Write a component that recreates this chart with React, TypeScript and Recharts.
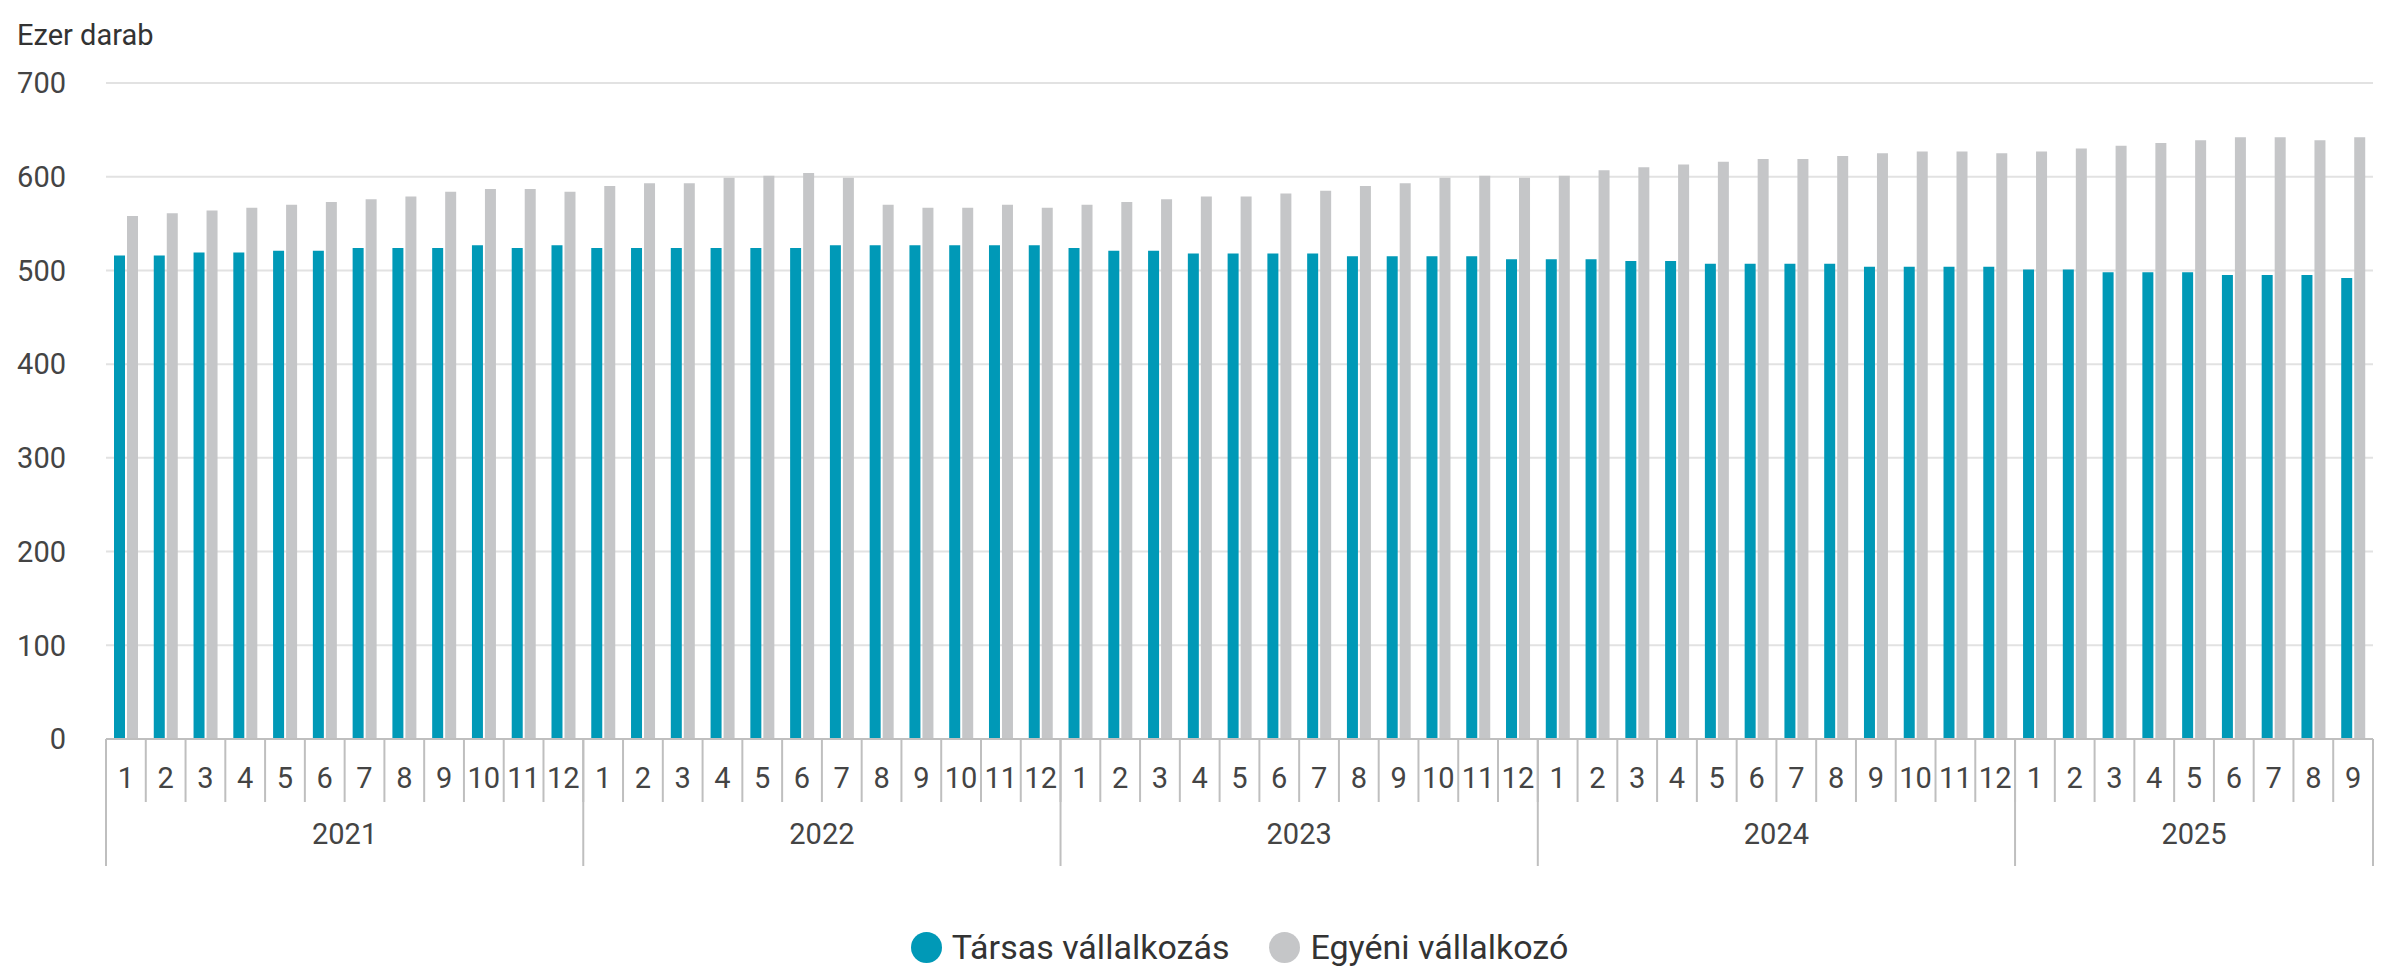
import React from "react";
import { BarChart, Bar, XAxis, YAxis, CartesianGrid, Legend } from "recharts";

// years shown and how many months each one has in the data
const YEARS = [2021, 2022, 2023, 2024, 2025];
const MONTH_COUNTS = [12, 12, 12, 12, 9];

// thousand units, one value per month from 2021-1 to 2025-9
const TARSAS = [
  516, 516, 519, 519, 521, 521, 524, 524, 524, 527, 524, 527,
  524, 524, 524, 524, 524, 524, 527, 527, 527, 527, 527, 527,
  524, 521, 521, 518, 518, 518, 518, 515, 515, 515, 515, 512,
  512, 512, 510, 510, 507, 507, 507, 507, 504, 504, 504, 504,
  501, 501, 498, 498, 498, 495, 495, 495, 492,
];
const EGYENI = [
  558, 561, 564, 567, 570, 573, 576, 579, 584, 587, 587, 584,
  590, 593, 593, 599, 601, 604, 599, 570, 567, 567, 570, 567,
  570, 573, 576, 579, 579, 582, 585, 590, 593, 599, 601, 599,
  601, 607, 610, 613, 616, 619, 619, 622, 625, 627, 627, 625,
  627, 630, 633, 636, 639, 642, 642, 639, 642,
];

const Y_TICKS = [0, 100, 200, 300, 400, 500, 600, 700];

const SERIES = [
  { key: "tarsas", name: "Társas vállalkozás", color: "#0099b7" },
  { key: "egyeni", name: "Egyéni vállalkozó", color: "#c5c6c8" },
];

const W = 2383;
const H = 976;
const MARGIN = { top: 83, right: 10, left: 0, bottom: 11 };
const Y_W = 106;
const MONTH_H = 63;
const YEAR_H = 127;
const FONT = "Roboto, 'Noto Sans', sans-serif";
const FS = 29;
const TEXT = "#444";
const LINE = "#bfbfbf";

type Row = { id: string; year: number; month: number; tarsas: number; egyeni: number };

const data: Row[] = [];
YEARS.forEach((year, yi) => {
  for (let m = 1; m <= MONTH_COUNTS[yi]; m++) {
    const i = data.length;
    data.push({ id: `${year}-${m}`, year, month: m, tarsas: TARSAS[i], egyeni: EGYENI[i] });
  }
});

const STEP = (W - MARGIN.left - MARGIN.right - Y_W) / data.length;

function MonthTick(props: any) {
  const { x, y, index } = props;
  const row = data[index];
  if (!row) return null;
  const last = index === data.length - 1;
  return (
    <g>
      <line x1={x - STEP / 2} x2={x - STEP / 2} y1={y} y2={y + MONTH_H} stroke={LINE} strokeWidth={2} />
      {last && <line x1={x + STEP / 2} x2={x + STEP / 2} y1={y} y2={y + MONTH_H} stroke={LINE} strokeWidth={2} />}
      <text x={x} y={y + 39} dy="0.35em" textAnchor="middle" fill={TEXT} fontSize={FS} fontFamily={FONT}>
        {row.month}
      </text>
    </g>
  );
}

function YearTick(props: any) {
  const { x, y, index } = props;
  const row = data[index];
  if (!row) return null;
  const last = index === data.length - 1;
  const yi = YEARS.indexOf(row.year);
  const left = x - STEP / 2;
  return (
    <g>
      {row.month === 1 && (
        <>
          <line x1={left} x2={left} y1={y - MONTH_H} y2={y + 64} stroke={LINE} strokeWidth={2} />
          <text
            x={left + (STEP * MONTH_COUNTS[yi]) / 2}
            y={y + 32}
            dy="0.35em"
            textAnchor="middle"
            fill={TEXT}
            fontSize={FS}
            fontFamily={FONT}
          >
            {row.year}
          </text>
        </>
      )}
      {last && <line x1={x + STEP / 2} x2={x + STEP / 2} y1={y - MONTH_H} y2={y + 64} stroke={LINE} strokeWidth={2} />}
    </g>
  );
}

function LegendBox() {
  return (
    <div
      style={{
        height: 36,
        display: "flex",
        justifyContent: "center",
        alignItems: "center",
        fontFamily: FONT,
        fontSize: 34,
        color: "#333",
      }}
    >
      {SERIES.map((s) => (
        <div key={s.key} style={{ display: "flex", alignItems: "center", margin: "0 20px" }}>
          <span
            style={{ width: 31, height: 31, borderRadius: "50%", background: s.color, display: "inline-block", marginRight: 10 }}
          />
          <span>{s.name}</span>
        </div>
      ))}
    </div>
  );
}

export default function App() {
  return (
    <div style={{ position: "absolute", left: 0, top: 0, width: W, height: H, background: "#fff", fontFamily: FONT }}>
      <BarChart width={W} height={H} data={data} margin={MARGIN} barGap={2} barSize={11}>
        <CartesianGrid vertical={false} stroke="#e2e2e2" strokeWidth={2} />
        <XAxis
          xAxisId="m"
          dataKey="id"
          interval={0}
          height={MONTH_H}
          tickLine={false}
          tickSize={0}
          tickMargin={0}
          axisLine={{ stroke: LINE, strokeWidth: 2 }}
          tick={<MonthTick />}
        />
        <XAxis
          xAxisId="y"
          dataKey="id"
          interval={0}
          height={YEAR_H}
          tickLine={false}
          tickSize={0}
          tickMargin={0}
          axisLine={false}
          tick={<YearTick />}
        />
        <YAxis
          width={Y_W}
          domain={[0, 700]}
          ticks={Y_TICKS}
          axisLine={false}
          tickLine={false}
          tickSize={0}
          tickMargin={40}
          tick={{ fill: TEXT, fontSize: FS, fontFamily: FONT }}
          label={{
            content: (p: any) => (
              <text x={17} y={p.viewBox.y - 48} dy="0.35em" fill="#333" fontSize={FS} fontFamily={FONT}>
                Ezer darab
              </text>
            ),
          }}
        />
        <Legend
          verticalAlign="bottom"
          wrapperStyle={{ left: Y_W, width: W - Y_W - MARGIN.right }}
          content={() => <LegendBox />}
        />
        {SERIES.map((s) => (
          <Bar key={s.key} xAxisId="m" dataKey={s.key} name={s.name} fill={s.color} isAnimationActive={false} />
        ))}
      </BarChart>
    </div>
  );
}
